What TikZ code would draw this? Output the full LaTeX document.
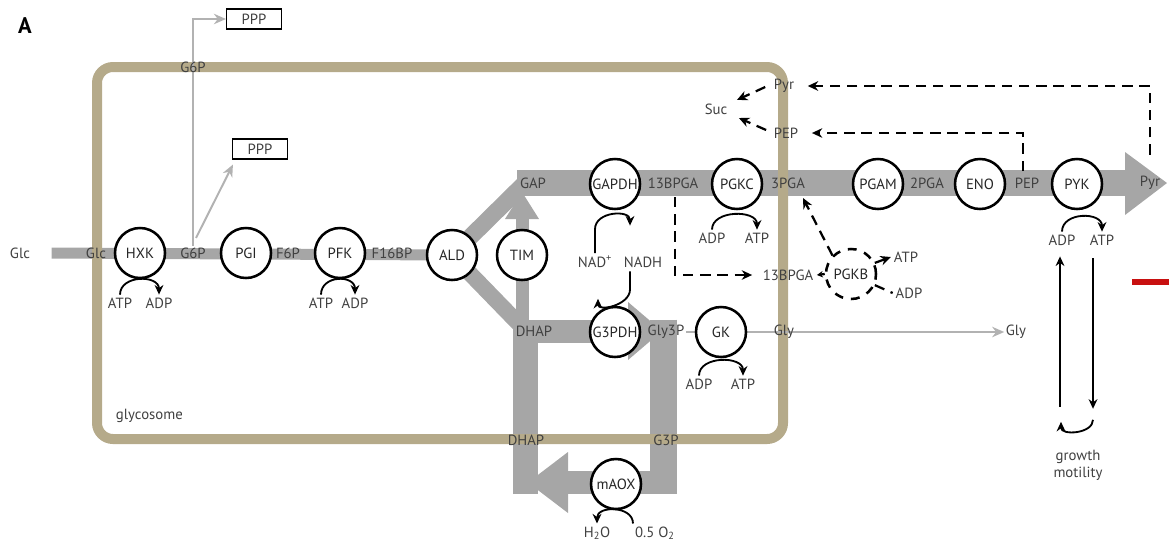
\documentclass[tikz,border=0pt]{standalone}
\usepackage{fontspec}
\setmainfont{PT Sans}
\usepackage{tikz}
\usetikzlibrary{arrows.meta,calc,positioning}
\definecolor{bandgray}{RGB}{166,166,166}
\definecolor{linegray}{RGB}{178,178,178}
\definecolor{membrane}{RGB}{181,170,138}
\definecolor{labeltext}{RGB}{64,64,64}
\definecolor{markred}{RGB}{200,16,16}
\pgfdeclarelayer{bands}
\pgfdeclarelayer{membr}
\pgfdeclarelayer{links}
\pgfsetlayers{bands,membr,links,main}

\begin{document}
\begin{tikzpicture}[
  x=0.025cm, y=-0.025cm,
  font=\fontsize{10.5}{12}\selectfont,
  every label/.style={text=black!85},
  enz/.style={circle, draw, fill=white, line width=1.8pt, minimum size=1.25cm, inner sep=0pt, label={center:#1}},
  met/.style={text=labeltext, inner sep=1pt},
  cof/.style={text=labeltext, inner sep=2pt},
  box/.style={draw, line width=0.8pt, minimum width=1.375cm, minimum height=0.5cm, inner sep=1pt, text=labeltext},
  band/.style={draw=bandgray, line cap=butt},
  side/.style={-{Stealth[length=2.4mm,width=2.2mm]}, line width=1.3pt},
  grayarr/.style={-{Stealth[length=3mm,width=2.6mm]}, draw=linegray, line width=1.4pt},
  dasharr/.style={-{Stealth[length=2.6mm,width=2.4mm]}, line width=1.6pt, dash pattern=on 0.26cm off 0.17cm},
  dashln/.style={line width=1.6pt, dash pattern=on 0.26cm off 0.17cm}
]
\useasboundingbox (0,0) rectangle (1169,547);
\node[font=\fontsize{16}{18}\selectfont\bfseries] (panel) at (25,26) {A};

% metabolites on the pathway
\node[met] (glcout) at (20,253) {Glc};
\node[met] (glc) at (96,253) {Glc};
\node[met] (g6p) at (193,253) {G6P};
\node[met] (f6p) at (288,253) {F6P};
\node[met] (f16bp) at (392,253) {F16BP};
\node[met] (gap) at (533,183) {GAP};
\node[met] (bpga) at (673,183) {13BPGA};
\node[met] (pga) at (788,183) {3PGA};
\node[met] (pgatwo) at (927,183) {2PGA};
\node[met] (pep) at (1027,183) {PEP};
\node[met] (pyr) at (1150,183) {Pyr};
\node[met] (dhap) at (534,331) {DHAP};
\node[met] (gly3p) at (666,332) {Gly3P};
\node[met] (gly) at (784,332) {Gly};
\node[met] (glyout) at (1016,332) {Gly};
\node[met] (dhapb) at (526,440) {DHAP};
\node[met] (g3p) at (666,440) {G3P};
\node[met] (g6ptop) at (193,67) {G6P};

% enzymes
\node[enz=HXK] (hxk) at (140,253) {};
\node[enz=PGI] (pgi) at (246,253) {};
\node[enz=PFK] (pfk) at (340,253) {};
\node[enz=ALD] (ald) at (452,255) {};
\node[enz=TIM] (tim) at (522,255) {};
\node[enz=GAPDH] (gapdh) at (615,184) {};
\node[enz=PGKC] (pgkc) at (737,184) {};
\node[enz=PGAM] (pgam) at (878,184) {};
\node[enz=ENO] (eno) at (980,184) {};
\node[enz=PYK] (pyk) at (1077,184) {};
\node[enz=G3PDH] (g3pdh) at (615,332) {};
\node[enz=GK] (gk) at (721,332) {};
\node[enz=mAOX] (maox) at (616,484) {};
\node[enz=PGKB, dash pattern=on 2.2mm off 2mm] (pgkb) at (851,274) {};

% side products
\node[box] (pppa) at (254,19) {PPP};
\node[box] (pppb) at (260,149) {PPP};
\node[met] (pyrc) at (784,86) {Pyr};
\node[met] (pepc) at (786,133) {PEP};
\node[met] (suc) at (716,109) {Suc};
\node[met] (bpgac) at (788,275) {13BPGA};
\node[cof] (pgkbatp) at (906,257) {ATP};
\node[cof] (pgkbadp) at (909,293) {ADP};
\node[cof] (gnad) at (595,262) {NAD\textsuperscript{+}};
\node[cof] (gnadh) at (643,262) {NADH};
\node[cof] (h2o) at (597,533) {H\textsubscript{2}O};
\node[cof] (otwo) at (655,533) {0.5 O\textsubscript{2}};
\node[cof, align=center] (growth) at (1078,465) {growth\\motility};
\node[text=labeltext, anchor=west] (glycosome) at (111,416) {glycosome};

% co-substrates
\foreach \e/\l/\r/\a/\b/\h in {hxk/ATP/ADP/-20/19/50, pfk/ATP/ADP/-19/15/50, pgkc/ADP/ATP/-25/20/54, pyk/ADP/ATP/-15/25/56, gk/ADP/ATP/-22/22/52}{
  \node[cof] (\e-l) at ($(\e)+(\a,\h)$) {\l};
  \node[cof] (\e-r) at ($(\e)+(\b,\h)$) {\r};
  \draw[side] (\e-l.north) .. controls +(0,-20) and +(0,-20) .. (\e-r.north);
}
\draw[side] (gnad.north) -- ++(0,-24) .. controls +(0,-18) and +(0,-16) .. ($(gnadh.north)+(-13,-28)$);
\draw[side] ($(gnadh.south)+(-13,1)$) -- ++(0,18) .. controls +(0,16) and +(0,13) .. ($(gnad.south)+(3,28)$);
\draw[side] ($(otwo.north)+(-22,0)$) .. controls +(0,-18) and +(0,-18) .. (h2o.north);

% flux bands
\begin{pgfonlayer}{bands}
  \coordinate (upc) at (526,182);
  \coordinate (lowc) at (521,326);
  \draw[band, line width=0.275cm] ($(glcout.east)+(20,0)$) -- (ald.center);
  \draw[band, line width=0.42cm] (ald.center) -- (upc);
  \draw[band, line width=0.65cm] ($(upc)+(-9,1)$) -- (1127,183);
  \fill[bandgray] (1125,152) -- (1167,183) -- (1125,215) -- cycle;
  \draw[band, line width=0.4cm] (ald.center) -- (lowc);
  \draw[band, line width=0.575cm] (513,331) -- (636,331);
  \fill[bandgray] (628,302) -- (662,331) -- (628,360) -- cycle;
  \draw[band, line width=0.675cm] (663.5,319.5) -- (663.5,494);
  \draw[band, line width=0.575cm] (677,482.5) -- (562,482.5);
  \fill[bandgray] (568,452) -- (528,482.5) -- (568,513) -- cycle;
  \draw[band, line width=0.625cm] (525.5,494) -- (525.5,319.5);
  \draw[band, line width=0.325cm] (522,322) -- (522,216);
  \fill[bandgray] (505,219) -- (522,192) -- (539,219) -- cycle;
\end{pgfonlayer}

% glycosome membrane
\begin{pgfonlayer}{membr}
  \draw[membrane, line width=0.25cm, rounded corners=0.4cm] (97,67) rectangle (783,439);
\end{pgfonlayer}

% branch and transport arrows
\begin{pgfonlayer}{links}
  \draw[grayarr] (g6p.north) -- (g6p.north |- pppa) -- (pppa.west);
  \draw[grayarr] ($(g6p.north)+(3,-8)$) -- ($(pppb.south west)+(1,5)$);
  \draw[grayarr, -] (gly3p.east) -- (gk);
  \draw[grayarr] (gk) -- (glyout.west);
  \draw[dasharr] ($(pyr.north)+(0,-20)$) |- ($(pyrc.east)+(12,0)$);
  \draw[dasharr] ($(pep.north)+(-4,-5)$) |- ($(pepc.east)+(12,0)$);
  \draw[dasharr] ($(pyrc.west)+(-7,1)$) -- ($(suc.north east)+(8,-2)$);
  \draw[dasharr] ($(pepc.west)+(-6,-3)$) -- ($(suc.south east)+(10,2)$);
  \draw[dasharr] ($(bpga.south)+(2,7)$) |- ($(bpgac.west)+(-9,0)$);
  \draw[dasharr] (pgkb.135) -- ($(pga)+(15,15)$);
  \draw[dasharr] (pgkb.25) -- (pgkbatp.west);
  \draw[dashln] (pgkb.-25) -- (pgkbadp.west);
  \draw[dashln, -{Stealth[length=1.5mm,width=1.6mm]}] (pgkb.west) -- ($(bpgac.east)+(2,0)$);
  \draw[side] ($(growth.north)+(-18,-40)$) -- ($(pyk-l.south)+(-2,8)$);
  \draw[side] ($(pyk-r.south)+(-9,10)$) -- ($(growth.north)+(15,-38)$);
  \draw[side] ($(growth.north)+(15,-27)$) .. controls +(0,14) and +(0,14) .. ($(growth.north)+(-17,-25)$);
  \draw[markred, line width=0.14cm] (1132,282) -- (1169,282);
\end{pgfonlayer}
\end{tikzpicture}
\end{document}
